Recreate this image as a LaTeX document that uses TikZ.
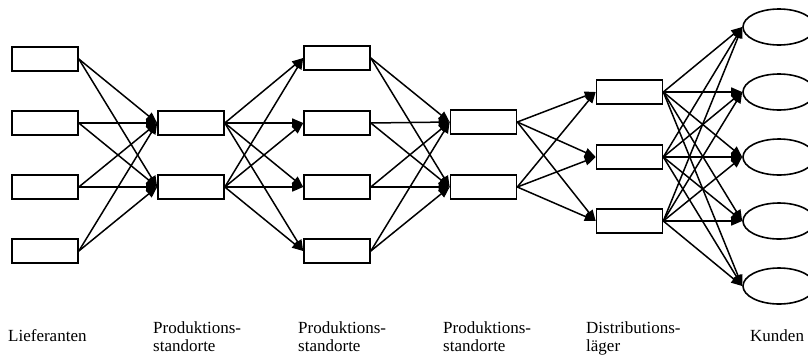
\documentclass[tikz,border=0pt]{standalone}
\usepackage{fontspec}
\setmainfont{Liberation Serif}
\usetikzlibrary{arrows.meta,shapes.geometric}
\begin{document}
\begin{tikzpicture}[x=1pt,y=-1pt,
  box/.style={draw,line width=1.6pt,minimum width=66pt,minimum height=24pt,inner sep=0pt},
  cust/.style={draw,ellipse,line width=1.6pt,minimum width=72pt,minimum height=36pt,inner sep=0pt},
  link/.style={line width=1.5pt,-{Triangle[length=11pt,width=9pt]}},
  lbl/.style={anchor=north west,inner sep=0pt,align=left,font=\fontsize{17}{18}\selectfont}]
\useasboundingbox (0,0) rectangle (808,357);
\begin{scope}
\clip (0,0) rectangle (808,357);
% column 1
\foreach \i/\y in {1/59,2/123,3/187,4/251} \node[box] (a\i) at (45,\y) {};
% column 2
\foreach \i/\y in {1/123,2/187} \node[box] (b\i) at (191,\y) {};
% column 3
\foreach \i/\y in {1/58,2/123,3/187,4/251} \node[box] (c\i) at (337,\y) {};
% column 4
\foreach \i/\y in {1/122,2/187} \node[box] (d\i) at (483.5,\y) {};
% column 5
\foreach \i/\y in {1/92,2/157,3/221} \node[box] (e\i) at (629.5,\y) {};
% column 6
\foreach \i/\y in {1/27,2/92,3/157,4/221,5/286} \node[cust] (f\i) at (779,\y) {};
% connectors
\foreach \s in {1,...,4} \foreach \t in {1,2} \draw[link] (a\s.east) -- (b\t.west);
\foreach \s in {1,2} \foreach \t in {1,...,4} \draw[link] (b\s.east) -- (c\t.west);
\foreach \s in {1,...,4} \foreach \t in {1,2} \draw[link] (c\s.east) -- (d\t.west);
\foreach \s in {1,2} \foreach \t in {1,...,3} \draw[link] (d\s.east) -- (e\t.west);
\foreach \s in {1,...,3} \foreach \t in {1,...,5} \draw[link] (e\s.east) -- (f\t.west);
\end{scope}
% labels
\node[lbl] (l1) at (8,329) {Lieferanten};
\node[lbl] (l2) at (153,321) {Produktions-\\standorte};
\node[lbl] (l3) at (298,321) {Produktions-\\standorte};
\node[lbl] (l4) at (443,321) {Produktions-\\standorte};
\node[lbl] (l5) at (586,321) {Distributions-\\läger};
\node[lbl] (l6) at (750,329) {Kunden};
\end{tikzpicture}
\end{document}
